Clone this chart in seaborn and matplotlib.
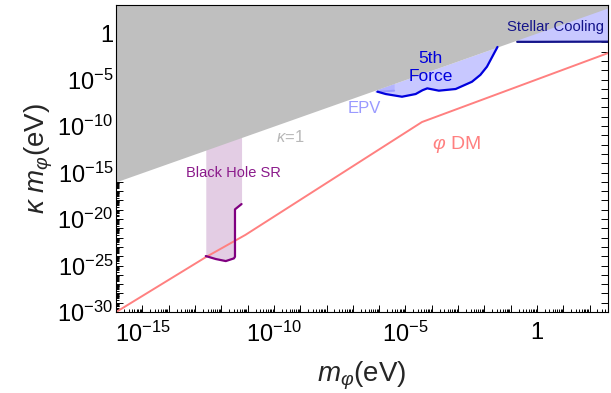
import numpy as np
import pandas as pd
import matplotlib
matplotlib.use("Agg")
from matplotlib import pyplot as plt
from matplotlib import ticker
import seaborn as sns

# all values are log10 of the quantity
x_lim = (-16, 2.7)
y_lim = (-30, 3)

# phi dark matter line
dm_logm = [-16.0, -12.59, -11.08, -4.37, 2.71]
dm_logk = [-30.0, -24.1, -21.7, -9.57, -2.15]

# black hole superradiance
bh_logm = [-12.59, -12.21, -11.83, -11.52, -11.48, -11.48, -11.23]
bh_logk = [-23.98, -24.3, -24.52, -24.23, -24.05, -18.96, -18.39]

# EPV
epv_logm = [-6.1, -5.75, -5.43]
epv_logk = [-6.33, -6.26, -6.2]

# 5th force
ff_logm = [-6.06, -5.75, -5.13, -4.61, -4.35, -4.17, -3.73, -3.09, -2.47, -2.15, -1.90, -1.50]
ff_logk = [-6.31, -6.56, -6.85, -6.56, -6.15, -5.95, -6.2, -6.02, -5.24, -4.5, -3.62, -1.5]

# stellar cooling
sc_logm = [-0.75, 0.0, 1.0, 2.7]
sc_logk = [-0.95, -0.95, -0.94, -0.93]

sns.set_theme(style="ticks")
plt.rcParams["font.family"] = ["Liberation Sans", "DejaVu Sans"]
plt.rcParams["mathtext.fontset"] = "custom"
plt.rcParams["mathtext.rm"] = "Liberation Sans"
plt.rcParams["mathtext.it"] = "Liberation Sans:italic"

fig = plt.figure(figsize=(6.11, 3.93), dpi=100)
ax = fig.add_axes([0.19, 0.206, 0.805, 0.781])
ax.set_xscale("log")
ax.set_yscale("log")


def pw(v):
    return 10.0 ** np.asarray(v, dtype=float)


ymax = pw(y_lim[1])

# black hole SR band
ax.fill_between(pw(bh_logm), pw(bh_logk), ymax, color="#e3cde4", lw=0, zorder=1)
# 5th force / EPV / stellar cooling shading, bounded by kappa = 1
ax.fill_between(pw(ff_logm), pw(ff_logk), pw(ff_logm), color="#c8c8ff", lw=0, zorder=1)
ax.fill_between(pw(epv_logm), pw(epv_logk), pw(epv_logm), color="#b4b4ff", lw=0, zorder=1)
ax.fill_between(pw(sc_logm), pw(sc_logk), ymax, color="#c8c8ff", lw=0, zorder=1)

# kappa > 1 excluded
grid = np.linspace(x_lim[0], x_lim[1], 60)
ax.fill_between(pw(grid), pw(grid), ymax, color="#bfbfbf", lw=0, zorder=1.5)

lines = [
    (dm_logm, dm_logk, "#ff8080", 1.4),
    (bh_logm, bh_logk, "#800080", 1.6),
    (epv_logm, epv_logk, "#9a9aff", 1.4),
    (ff_logm, ff_logk, "#0000dd", 1.6),
    (sc_logm, sc_logk, "#14148a", 1.6),
]
for lm, lk, col, lw in lines:
    df = pd.DataFrame({"m": pw(lm), "k": pw(lk)})
    sns.lineplot(data=df, x="m", y="k", ax=ax, color=col, lw=lw, sort=False,
                 estimator=None, zorder=2)

ax.text(pw(-11.53), pw(-15.05), "Black Hole SR", color="#8b1a8b", fontsize=10.5,
        ha="center", va="center", zorder=3)
ax.text(pw(-9.37), pw(-11.2), r"$\kappa$=1", color="#b8b8b8", fontsize=12,
        ha="center", va="center", zorder=3)
ax.text(pw(-6.57), pw(-8.1), "EPV", color="#9a9aff", fontsize=12,
        ha="center", va="center", zorder=3)
ax.text(pw(-4.04), pw(-3.66), "5th\nForce", color="#0000dd", fontsize=12.5,
        ha="center", va="center", linespacing=1.25, zorder=3)
ax.text(pw(0.69), pw(0.61), "Stellar Cooling", color="#14148a", fontsize=10.7,
        ha="center", va="center", zorder=3)
ax.text(pw(-3.05), pw(-12.04), r"$\varphi$ DM", color="#ff8080", fontsize=14,
        ha="center", va="center", zorder=3)

ax.set_xlim(pw(x_lim[0]), pw(x_lim[1]))
ax.set_ylim(pw(y_lim[0]), pw(y_lim[1]))


def fmt(v, pos):
    e = int(round(np.log10(v)))
    if e % 5 != 0:
        return ""
    if e == 0:
        return "1"
    return r"$10^{%d}$" % e


for axis in (ax.xaxis, ax.yaxis):
    axis.set_major_locator(ticker.LogLocator(base=10, numticks=200))
    axis.set_minor_locator(ticker.LogLocator(base=10, subs=np.arange(2, 10), numticks=200))
    axis.set_major_formatter(ticker.FuncFormatter(fmt))
    axis.set_minor_formatter(ticker.NullFormatter())

ax.tick_params(which="both", direction="in", top=True, right=True, colors="black",
               labelsize=17, width=0.7)
ax.tick_params(which="major", length=5)
ax.tick_params(which="minor", length=2.5)
ax.tick_params(which="minor", axis="y", right=False)
ax.tick_params(axis="x", pad=7)
ax.tick_params(axis="y", pad=2)
for s in ax.spines.values():
    s.set_color("black")
    s.set_linewidth(0.8)

ax.set_xlabel(r"$m_{\varphi}$(eV)", fontsize=20, labelpad=9)
ax.set_ylabel(r"$\kappa\ m_{\varphi}$(eV)", fontsize=20, labelpad=2)

fig.savefig("out.png", dpi=100)
